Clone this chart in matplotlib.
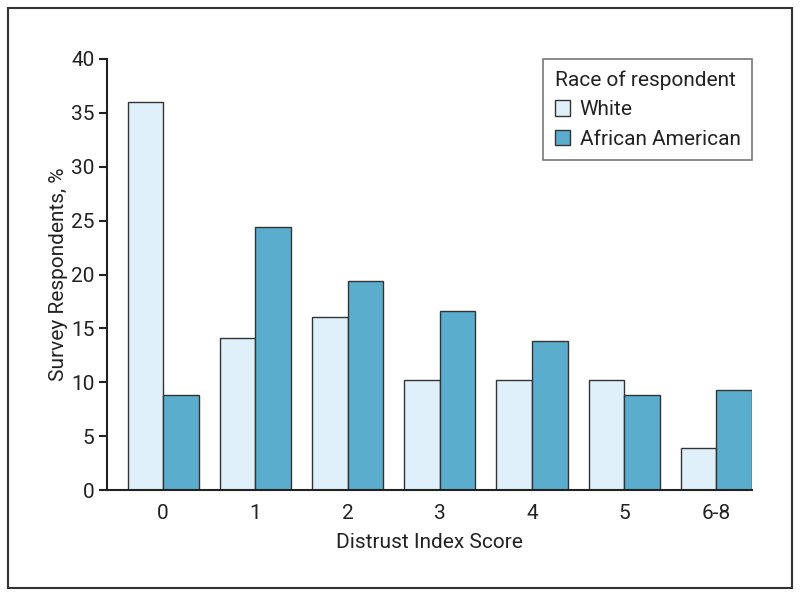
import numpy as np
import matplotlib
matplotlib.use("Agg")
import matplotlib.pyplot as plt
from matplotlib.patches import Rectangle

plt.rcParams['font.family'] = ['Roboto', 'DejaVu Sans']

categories = ['0', '1', '2', '3', '4', '5', '6-8']
white = [36.0, 14.1, 16.1, 10.2, 10.2, 10.2, 3.9]
african_american = [8.8, 24.4, 19.4, 16.6, 13.8, 8.8, 9.3]

white_color = '#dff0fa'
aa_color = '#5aadcd'
edge = '#333333'
text_color = '#222222'
fs = 15

fig = plt.figure(figsize=(8.0, 5.96), dpi=100)
ax = fig.add_axes([107 / 800, 1 - 490 / 596, (752 - 107) / 800, (490 - 59) / 596])

x = np.arange(len(categories))
w = 0.386
ax.bar(x - w / 2, white, w, color=white_color, edgecolor=edge, linewidth=1, label='White')
ax.bar(x + w / 2, african_american, w, color=aa_color, edgecolor=edge, linewidth=1,
       label='African American')

ax.set_xlim(-0.609, 6.386)
ax.set_ylim(0, 40)
ax.set_yticks(np.arange(0, 41, 5))
ax.set_xticks(x)
ax.set_xticklabels(categories)

for s in ['top', 'right']:
    ax.spines[s].set_visible(False)
for s in ['left', 'bottom']:
    ax.spines[s].set_linewidth(1.5)
    ax.spines[s].set_color(text_color)
ax.tick_params(axis='y', length=6, width=1.5, direction='out', labelsize=fs, colors=text_color, pad=3)
ax.tick_params(axis='x', length=0, labelsize=fs, colors=text_color, pad=10)

ax.set_xlabel('Distrust Index Score', fontsize=fs, color=text_color, labelpad=7)
ax.set_ylabel('Survey Respondents, %', fontsize=fs, color=text_color, labelpad=2)

leg = ax.legend(title='Race of respondent', loc='upper right', bbox_to_anchor=(1.0, 1.0),
                borderaxespad=0, fontsize=fs, title_fontsize=fs, frameon=True, fancybox=False,
                edgecolor='#555555', handlelength=0.75, handleheight=0.75,
                handletextpad=0.45, borderpad=0.55, labelspacing=0.5)
leg._legend_box.align = 'left'
leg.get_title().set_color(text_color)
for t in leg.get_texts():
    t.set_color(text_color)
leg.get_frame().set_linewidth(1.2)

fig.patches.append(Rectangle((8 / 800, 8 / 596), 784 / 800, 580 / 596, transform=fig.transFigure,
                             fill=False, edgecolor='#333333', linewidth=1.5))

fig.savefig('out.png', dpi=100)
